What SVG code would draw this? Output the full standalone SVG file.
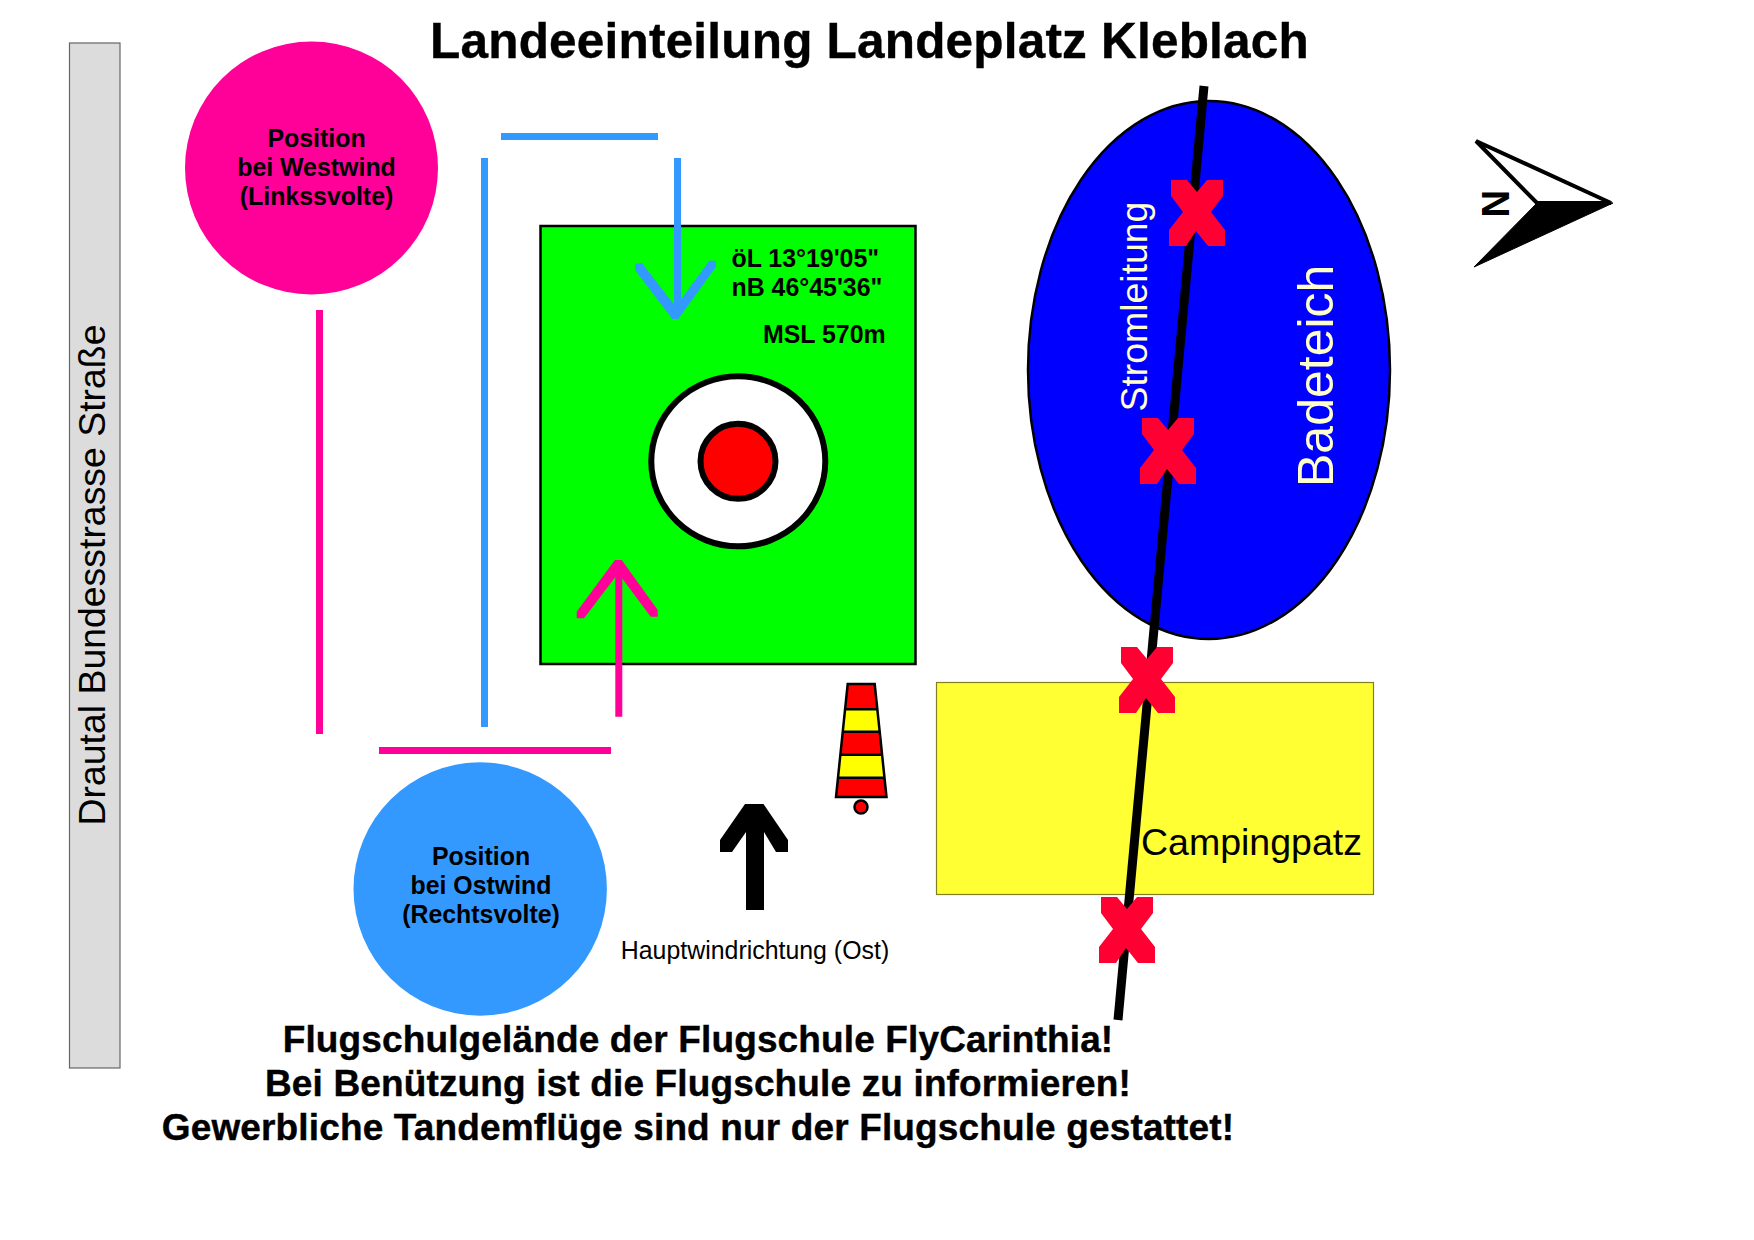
<svg xmlns="http://www.w3.org/2000/svg" width="1754" height="1240" viewBox="0 0 1754 1240">
<style>
text{font-family:"Liberation Sans",Arial,sans-serif;fill:#000}
.b{font-weight:bold}
.m{text-anchor:middle}
.s{font-size:24.900px}
.big{font-size:37px;letter-spacing:.14px;stroke:#000;stroke-width:.4px}
.pale{fill:#ffffcc}
.line{fill:none;stroke-width:7}
.pink{stroke:#ff0099}
.blue{stroke:#3399ff}
</style>
<defs>
<polygon id="x" fill="#ff0033" points="-26,-33 -10,-33 0,-21 10,-33 26,-33 26,-17 14,-1 28,17 28,33 11,33 -1,18 -11,33 -28,33 -28,17 -14,-1 -26,-17"/>
</defs>
<rect width="1754" height="1240" fill="#fff"/>
<text id="title" class="b m" x="869.500" y="58" font-size="49.500" letter-spacing=".2" stroke="#000" stroke-width=".4">Landeeinteilung Landeplatz Kleblach</text>
<g id="road">
<rect x="69.500" y="43" width="50.500" height="1025" fill="#dcdcdc" stroke="#666" stroke-width="1.200"/>
<text class="m" transform="translate(105 575) rotate(-90)" font-size="37.400">Drautal Bundesstrasse Straße</text>
</g>
<g id="position-west">
<circle cx="311.500" cy="168" r="126.500" fill="#ff0099"/>
<text class="b m s" x="316.500" y="146.800">Position</text>
<text class="b m s" x="316.500" y="175.800">bei Westwind</text>
<text class="b m s" x="316.500" y="204.800">(Linkssvolte)</text>
</g>
<g id="position-east">
<circle cx="480.200" cy="889" r="126.700" fill="#3399ff"/>
<text class="b m s" x="481" y="865">Position</text>
<text class="b m s" x="481" y="894">bei Ostwind</text>
<text class="b m s" x="481" y="923">(Rechtsvolte)</text>
</g>
<g id="field">
<rect x="540.500" y="226" width="375" height="438" fill="#00ff00" stroke="#000" stroke-width="2.500"/>
<text class="b s" x="731.500" y="267">öL 13°19'05"</text>
<text class="b s" x="731.500" y="296">nB 46°45'36"</text>
<text class="b s" x="763" y="342.800">MSL 570m</text>
</g>
<g id="target">
<ellipse cx="738.300" cy="461.300" rx="87" ry="85" fill="#fff" stroke="#000" stroke-width="6"/>
<circle cx="738" cy="461.300" r="37.500" fill="#ff0000" stroke="#000" stroke-width="6"/>
</g>
<g id="connectors">
<path class="line blue" d="M501 136.500H658M484.500 158V727M677.500 158V315"/>
<polygon fill="#3399ff" points="635,264 641.700,262.700 675.700,306.700 709.300,260.700 716,260.700 716,266.700 678.300,319 672.300,319 635,270"/>
<path class="line pink" d="M319.500 310V734M379 750.500H611M618.800 716.700V566"/>
<polygon fill="#ff0099" points="615,560 621.700,560 657.700,610 657.700,616.700 650.700,616.700 618.300,573.300 584,618.300 576.700,618.300 576.700,611.700"/>
</g>
<g id="windsock">
<polygon points="847.700,684 874.700,684 878,709.300 844.500,709.300" fill="#ff0000"/>
<polygon points="844.500,709.300 878,709.300 880.500,731.700 842.300,731.700" fill="#ffff00"/>
<polygon points="842.300,731.700 880.500,731.700 882.700,754.700 839.900,754.700" fill="#ff0000"/>
<polygon points="839.900,754.700 882.700,754.700 884.400,777.700 838,777.700" fill="#ffff00"/>
<polygon points="838,777.700 884.400,777.700 886.500,797 836,797" fill="#ff0000"/>
<path fill="none" stroke="#000" stroke-width="2.500" d="M847.700 684H874.700L886.500 797H836ZM844.500 709.300H878M842.300 731.700H880.500M839.900 754.700H882.700M838 777.700H884.400"/>
<circle cx="861" cy="807" r="6.500" fill="#ff0000" stroke="#000" stroke-width="2.500"/>
</g>
<g id="wind-arrow">
<polygon points="745,804 763.500,804 788,840 788,852 776,852 764,832 764,910 746,910 746,832 732,852 720,852 720,840"/>
<text class="m s" x="755" y="958.800">Hauptwindrichtung (Ost)</text>
</g>
<g id="pond">
<ellipse cx="1209" cy="370" rx="181" ry="269" fill="#0000ff" stroke="#000" stroke-width="2.500"/>
<text class="pale" transform="translate(1147 411.500) rotate(-90)" font-size="37.400">Stromleitung</text>
<text class="pale" transform="translate(1333 487) rotate(-90)" font-size="50">Badeteich</text>
</g>
<g id="camping">
<rect x="936.500" y="682.500" width="437" height="212" fill="#ffff33" stroke="#808020" stroke-width="1.200"/>
<text x="1141" y="855" font-size="37.500">Campingpatz</text>
</g>
<g id="power-line">
<line x1="1204" y1="86" x2="1118" y2="1020" stroke="#000" stroke-width="9"/>
<use href="#x" x="1197" y="213"/>
<use href="#x" x="1168" y="451"/>
<use href="#x" x="1147" y="680"/>
<use href="#x" x="1127" y="930"/>
</g>
<g id="north-arrow">
<polygon points="1476,141 1611,203 1537,203" fill="#fff" stroke="#000" stroke-width="4" stroke-linejoin="miter"/>
<polygon points="1474,267 1613,203 1537,203" fill="#000" stroke="#000" stroke-width="1"/>
<text class="b" transform="translate(1482 190) rotate(90)" font-size="38">N</text>
</g>
<g id="notice">
<text class="b m big" x="698" y="1052">Flugschulgelände der Flugschule FlyCarinthia!</text>
<text class="b m big" x="698" y="1096">Bei Benützung ist die Flugschule zu informieren!</text>
<text class="b m big" x="698" y="1140">Gewerbliche Tandemflüge sind nur der Flugschule gestattet!</text>
</g>
</svg>
